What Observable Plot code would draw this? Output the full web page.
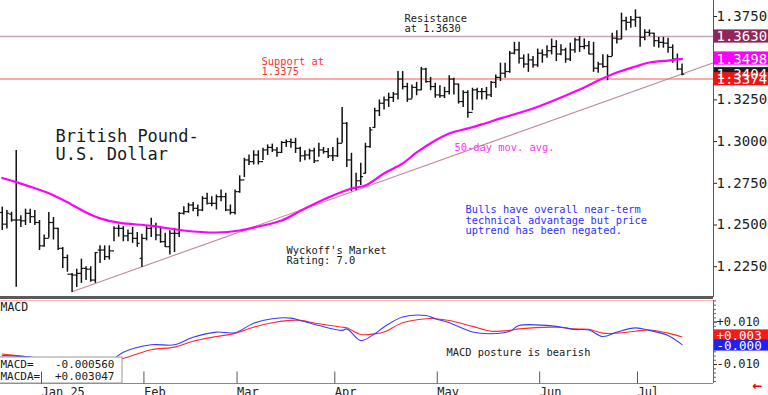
<!DOCTYPE html>
<html><head><meta charset="utf-8">
<script src="https://cdn.jsdelivr.net/npm/d3@7"></script>
<script src="https://cdn.jsdelivr.net/npm/@observablehq/plot@0.6"></script>
<style>
body{margin:0;background:#fff;}
#wrap{position:relative;width:768px;height:395px;overflow:hidden;background:#fff;}
#wrap svg{position:absolute;left:0;display:block;}
</style></head><body><div id="wrap"></div>
<script>
// ---- Daily OHLC, GBP/USD, trading-day index 0 = Dec 19 2024 ... 146 = Jul 15 2025
const open  = [1.2575,1.2505,1.2565,1.2530,1.2530,1.2525,1.2570,1.2550,1.2515,1.2375,
 1.2420,1.2515,1.2480,1.2360,1.2305,1.2205,1.2200,1.2210,1.2240,1.2235,
 1.2170,1.2350,1.2350,1.2310,1.2345,1.2480,1.2480,1.2435,1.2450,1.2420,
 1.2300,1.2420,1.2480,1.2495,1.2440,1.2400,1.2370,1.2450,1.2450,1.2570,
 1.2580,1.2620,1.2600,1.2590,1.2660,1.2630,1.2630,1.2670,1.2670,1.2590,
 1.2575,1.2700,1.2770,1.2890,1.2880,1.2920,1.2880,1.2950,1.2965,1.2950,
 1.2935,1.2995,1.3000,1.2995,1.2960,1.2915,1.2920,1.2945,1.2885,1.2950,
 1.2940,1.2915,1.2915,1.2990,1.3110,1.2890,1.2720,1.2765,1.2810,1.2970,
 1.3085,1.3185,1.3230,1.3250,1.3265,1.3285,1.3375,1.3330,1.3255,1.3325,
 1.3310,1.3435,1.3360,1.3330,1.3280,1.3275,1.3300,1.3375,1.3345,1.3240,
 1.3295,1.3175,1.3310,1.3300,1.3300,1.3280,1.3355,1.3385,1.3410,1.3420,
 1.3530,1.3550,1.3500,1.3465,1.3490,1.3460,1.3530,1.3520,1.3545,1.3570,
 1.3525,1.3550,1.3495,1.3550,1.3610,1.3570,1.3575,1.3525,1.3440,1.3465,
 1.3450,1.3510,1.3620,1.3615,1.3725,1.3715,1.3730,1.3745,1.3625,1.3655,
 1.3650,1.3605,1.3595,1.3590,1.3565,1.3495,1.3435];
const high  = [1.2607,1.2587,1.2577,1.2947,1.2555,1.2595,1.2595,1.2587,1.2527,1.2440,
 1.2575,1.2545,1.2480,1.2365,1.2320,1.2210,1.2235,1.2295,1.2250,1.2250,
 1.2335,1.2375,1.2375,1.2375,1.2490,1.2500,1.2490,1.2470,1.2485,1.2455,
 1.2445,1.2490,1.2540,1.2510,1.2490,1.2450,1.2465,1.2480,1.2575,1.2610,
 1.2630,1.2635,1.2620,1.2670,1.2690,1.2670,1.2680,1.2710,1.2690,1.2620,
 1.2710,1.2795,1.2900,1.2920,1.2945,1.2945,1.2960,1.2980,1.2985,1.2965,
 1.3000,1.3010,1.3015,1.3020,1.2966,1.2945,1.2955,1.2960,1.2990,1.2965,
 1.2959,1.2965,1.3020,1.3205,1.3115,1.2930,1.2810,1.2870,1.2990,1.3085,
 1.3200,1.3250,1.3268,1.3290,1.3295,1.3420,1.3420,1.3350,1.3340,1.3355,
 1.3445,1.3440,1.3385,1.3350,1.3335,1.3325,1.3395,1.3380,1.3345,1.3305,
 1.3305,1.3320,1.3320,1.3318,1.3325,1.3360,1.3400,1.3470,1.3470,1.3540,
 1.3595,1.3595,1.3520,1.3525,1.3510,1.3555,1.3550,1.3575,1.3615,1.3605,
 1.3580,1.3560,1.3590,1.3620,1.3630,1.3615,1.3600,1.3595,1.3475,1.3520,
 1.3520,1.3650,1.3665,1.3770,1.3745,1.3750,1.3790,1.3745,1.3670,1.3670,
 1.3650,1.3625,1.3625,1.3620,1.3580,1.3525,1.3465];
const low   = [1.2467,1.2476,1.2517,1.2127,1.2485,1.2497,1.2509,1.2497,1.2347,1.2367,
 1.2420,1.2410,1.2347,1.2240,1.2217,1.2095,1.2125,1.2150,1.2167,1.2157,
 1.2150,1.2269,1.2287,1.2290,1.2400,1.2427,1.2400,1.2400,1.2390,1.2367,
 1.2245,1.2405,1.2425,1.2405,1.2390,1.2365,1.2320,1.2335,1.2425,1.2560,
 1.2570,1.2580,1.2550,1.2580,1.2620,1.2610,1.2590,1.2640,1.2580,1.2560,
 1.2560,1.2690,1.2785,1.2857,1.2860,1.2860,1.2887,1.2917,1.2935,1.2906,
 1.2929,1.2965,1.2960,1.2929,1.2876,1.2885,1.2890,1.2869,1.2906,1.2925,
 1.2899,1.2880,1.2905,1.2990,1.2845,1.2700,1.2707,1.2737,1.2805,1.2960,
 1.3080,1.3150,1.3190,1.3205,1.3235,1.3250,1.3310,1.3235,1.3255,1.3275,
 1.3305,1.3350,1.3305,1.3260,1.3260,1.3258,1.3280,1.3280,1.3225,1.3205,
 1.3140,1.3185,1.3250,1.3250,1.3250,1.3265,1.3320,1.3360,1.3380,1.3410,
 1.3520,1.3465,1.3440,1.3415,1.3440,1.3445,1.3470,1.3500,1.3520,1.3480,
 1.3515,1.3470,1.3480,1.3530,1.3535,1.3550,1.3520,1.3415,1.3410,1.3440,
 1.3365,1.3510,1.3585,1.3610,1.3665,1.3680,1.3685,1.3565,1.3605,1.3630,
 1.3565,1.3560,1.3560,1.3530,1.3470,1.3425,1.3395];
const close = [1.2505,1.2570,1.2530,1.2530,1.2525,1.2570,1.2550,1.2515,1.2375,1.2420,
 1.2515,1.2480,1.2360,1.2305,1.2205,1.2200,1.2210,1.2240,1.2235,1.2170,
 1.2335,1.2350,1.2310,1.2345,1.2480,1.2480,1.2435,1.2450,1.2420,1.2390,
 1.2420,1.2480,1.2495,1.2440,1.2400,1.2370,1.2450,1.2450,1.2570,1.2580,
 1.2620,1.2600,1.2590,1.2660,1.2630,1.2630,1.2670,1.2670,1.2590,1.2575,
 1.2700,1.2770,1.2890,1.2880,1.2920,1.2880,1.2950,1.2965,1.2950,1.2935,
 1.2995,1.3000,1.2995,1.2960,1.2915,1.2920,1.2945,1.2885,1.2950,1.2940,
 1.2915,1.2915,1.2990,1.3110,1.2890,1.2720,1.2765,1.2790,1.2970,1.3070,
 1.3185,1.3230,1.3250,1.3265,1.3285,1.3375,1.3330,1.3255,1.3325,1.3310,
 1.3435,1.3360,1.3330,1.3280,1.3275,1.3300,1.3375,1.3345,1.3240,1.3295,
 1.3175,1.3310,1.3300,1.3300,1.3280,1.3355,1.3385,1.3410,1.3420,1.3530,
 1.3550,1.3500,1.3465,1.3490,1.3460,1.3530,1.3520,1.3545,1.3570,1.3525,
 1.3550,1.3495,1.3550,1.3610,1.3570,1.3575,1.3525,1.3440,1.3465,1.3450,
 1.3510,1.3620,1.3615,1.3725,1.3715,1.3730,1.3745,1.3625,1.3655,1.3650,
 1.3605,1.3595,1.3590,1.3565,1.3495,1.3435,1.3404];

// 50-day moving average, read at selected trading days
const maIdx = [0,3,7,10,14,18,21,25,32,39,46,51,55,60,65,71,75,78,82,86,89,93,96,100,103,107,114,121,125,128,132,136,139,143,146];
const maVal = [1.2782,1.2757,1.2720,1.2690,1.2636,1.2575,1.2540,1.2514,1.2495,1.2467,1.2455,1.2467,1.2491,1.2527,1.2599,1.2677,1.2719,1.2737,1.2809,1.2869,1.2935,1.3007,1.3049,1.3079,1.3103,1.3139,1.3198,1.3276,1.3324,1.3366,1.3414,1.3450,1.3474,1.3486,1.3496];

// trendline anchors (index, price)
const trendIdx = [15, 152.76];
const trendVal = [1.2100, 1.3473];

const resistance = 1.3630;
const support = 1.3375;

// right-side value tags
const tagVals   = [1.3630, 1.3498, 1.3404, 1.3374];
const tagLabels = ["1.3630","1.3498","1.3404","1.3374"];

const yTicks = [1.225,1.25,1.275,1.3,1.325,1.35,1.375];

// MACD panel
const macdIdx = [0,7,12,17,21,24,26,32,37,41,46,50,54,58,62,64,68,73,74,77,80,82,86,91,93,96,101,105,109,111,119,123,126,129,132,136,139,143,146];
const macdVal = [-0.0058,-0.0068,-0.0100,-0.0120,-0.0105,-0.0072,-0.0042,-0.0007,-0.0007,0.0029,0.0053,0.0050,0.0095,0.0116,0.0119,0.0108,0.0084,0.0061,0.0068,0.0013,0.0045,0.0077,0.0124,0.0131,0.0116,0.0097,0.0053,0.0045,0.0057,0.0084,0.0080,0.0065,0.0063,0.0032,0.0053,0.0073,0.0061,0.0037,-0.0006];
const macdaVal = [-0.0050,-0.0068,-0.0080,-0.0100,-0.0100,-0.0085,-0.0072,-0.0030,-0.0018,0.0010,0.0032,0.0047,0.0076,0.0097,0.0108,0.0108,0.0092,0.0076,0.0073,0.0042,0.0045,0.0053,0.0097,0.0116,0.0116,0.0108,0.0080,0.0057,0.0061,0.0068,0.0076,0.0068,0.0066,0.0048,0.0048,0.0057,0.0063,0.0048,0.0030];
const macdTicks = [0.010, -0.010];
const macdTagLabels = ["+0.003", "-0.000"];

const monthIdx = [8,30,50,71,93,115,136];
const monthLabels = ["Jan 25","Feb","Mar","Apr","May","Jun","Jul"];

// ---------------- layout helpers
const FONT = "'DejaVu Sans Mono', monospace";
const plotRight = 713;
const xDomain = [-0.376, 152.76];
const yDomain = [1.20654, 1.38459];
const px2x = px => xDomain[0] + px / plotRight * (xDomain[1] - xDomain[0]);
const pricePerPx = (yDomain[1] - yDomain[0]) / 297;

const bars = open.map((o, i) => ({i, o, h: high[i], l: low[i], c: close[i]}));
const ma = maIdx.map((i, k) => ({i, v: maVal[k]}));
const trend = trendIdx.map((i, k) => ({i, v: trendVal[k]}));
const tagColors = ["#8e2658", "#ff00ff", "#1c1c1c", "#f21212"];
const tags = tagVals.map((v, k) => ({v, label: tagLabels[k], color: tagColors[k]}));

const txt = (s, x, y, o = {}) => Plot.text([s], {
  text: d => d, frameAnchor: "top-left", dx: x, dy: y, textAnchor: "start",
  lineAnchor: "top", fontFamily: FONT, fontSize: 10.4, fill: "#1a1a1a", lineHeight: 1.0, ...o
});

const main = Plot.plot({
  width: 768, height: 299,
  marginTop: 0, marginRight: 55, marginBottom: 2, marginLeft: 0,
  style: {fontFamily: FONT, color: "#222", background: "transparent"},
  x: {domain: xDomain, axis: null, label: null},
  y: {domain: yDomain, axis: null, label: null},
  marks: [
    Plot.ruleY([resistance], {stroke: "#c8a2b8", strokeWidth: 1.5}),
    Plot.ruleY([support], {stroke: "#ffaaaa", strokeWidth: 2}),
    Plot.line(trend, {x: "i", y: "v", stroke: "#c48898", strokeWidth: 1.1}),
    Plot.ruleX(bars, {x: "i", y1: "l", y2: "h", stroke: "#111", strokeWidth: 1.5}),
    Plot.link(bars, {x1: d => d.i - 0.5, x2: "i", y1: "o", y2: "o", stroke: "#111", strokeWidth: 1.2}),
    Plot.link(bars, {x1: "i", x2: d => d.i + 0.5, y1: "c", y2: "c", stroke: "#111", strokeWidth: 1.2}),
    Plot.line(ma, {x: "i", y: "v", stroke: "#ff00ff", strokeWidth: 2.2, curve: "catmull-rom"}),
    Plot.ruleX([xDomain[1]], {stroke: "#555", strokeWidth: 1}),
    Plot.axisY({anchor: "right", label: null, ticks: yTicks, tickFormat: d => d.toFixed(4), tickSize: 3, tickPadding: 0, fontSize: 14, fontFamily: FONT, fill: "#222"}),
    Plot.rect(tags, {x1: () => px2x(714), x2: () => px2x(768), y1: d => d.v - 6.6 * pricePerPx, y2: d => d.v + 6.6 * pricePerPx, fill: "color"}),
    Plot.text(tags, {x: () => px2x(716), y: "v", text: "label", textAnchor: "start", fill: "white", fontSize: 14, fontFamily: FONT, dy: 0.5}),
    txt("Resistance\nat 1.3630", 404, 13.5, {lineHeight: 1.03}),
    txt("Support at\n1.3375", 261, 57, {fill: "#ff3030", lineHeight: 0.97}),
    txt("British Pound-\nU.S. Dollar", 55, 129.5, {fontSize: 17, lineHeight: 1.02}),
    txt("50-day mov. avg.", 454, 143.5, {fill: "#ff33ff"}),
    txt("Bulls have overall near-term\ntechnical advantage but price\nuptrend has been negated.", 465, 205.5, {fill: "#3030ff", lineHeight: 1.0}),
    txt("Wyckoff's Market\nRating: 7.0", 286, 246.5, {lineHeight: 0.97}),
    Plot.ruleY([yDomain[0]], {stroke: "#5a5a5a", strokeWidth: 3})
  ]
});

// MACD panel: local y range [1, 84]
const mTop = 0.02019, mBot = -0.01894;
const macdPerPx = (mTop - mBot) / 83;
const lm2v = local => mTop - (local - 1) * macdPerPx;
const macdLine = macdIdx.map((i, k) => ({i, v: macdVal[k]}));
const macdaLine = macdIdx.map((i, k) => ({i, v: macdaVal[k]}));
const mtags = [
  {label: macdTagLabels[0], c: lm2v(36), color: "#f21a1a"},
  {label: macdTagLabels[1], c: lm2v(46), color: "#2020f0"}
];

const mtxt = (s, x, y, o = {}) => txt(s, x, y - 1, o);

const macd = Plot.plot({
  width: 768, height: 96,
  marginTop: 1, marginRight: 55, marginBottom: 12, marginLeft: 0,
  style: {fontFamily: FONT, color: "#222", background: "transparent"},
  x: {domain: xDomain, axis: null, label: null},
  y: {domain: [mBot, mTop], axis: null, label: null},
  marks: [
    Plot.ruleY([mTop], {stroke: "#ffb4b4", strokeWidth: 1}),
    Plot.line(macdaLine, {x: "i", y: "v", stroke: "#ff2a2a", strokeWidth: 1.1, curve: "catmull-rom"}),
    Plot.line(macdLine, {x: "i", y: "v", stroke: "#3a3aff", strokeWidth: 1.1, curve: "catmull-rom"}),
    Plot.ruleY([mBot], {stroke: "#888", strokeWidth: 1}),
    Plot.ruleX([xDomain[1]], {stroke: "#666", strokeWidth: 1}),
    Plot.axisY({anchor: "right", label: null, ticks: d3.range(-0.018, 0.0201, 0.002), tickSize: 2, tickFormat: () => "", stroke: "#666"}),
    Plot.axisY({anchor: "right", label: null, ticks: macdTicks, tickSize: 3, tickPadding: 0, tickFormat: d => (d > 0 ? "+" : "") + d.toFixed(3), fontSize: 12, fontFamily: FONT, fill: "#222"}),
    Plot.rect(mtags, {x1: () => px2x(714), x2: () => px2x(768), y1: d => d.c - 5.6 * macdPerPx, y2: d => d.c + 5.6 * macdPerPx, fill: "color"}),
    Plot.text(mtags, {x: () => px2x(716), y: "c", text: "label", textAnchor: "start", fill: "white", fontSize: 12.5, fontFamily: FONT, dy: 0.5}),
    Plot.rect([0], {x1: () => px2x(-2), x2: () => px2x(122), y1: () => lm2v(58), y2: () => lm2v(84), fill: "white", stroke: "#999", strokeWidth: 1}),
    mtxt("MACD=", 0, 60.5, {fontSize: 11}),
    mtxt("MACDA=", 0, 72.5, {fontSize: 11}),
    mtxt("-0.000560", 114, 60.5, {fontSize: 11, textAnchor: "end"}),
    mtxt("+0.003047", 114, 72.5, {fontSize: 11, textAnchor: "end"}),
    mtxt("MACD", 0, 3, {fontSize: 11.5}),
    mtxt("MACD posture is bearish", 446, 49),
    Plot.axisX({anchor: "bottom", label: null, ticks: monthIdx, tickFormat: d => monthLabels[monthIdx.indexOf(d)], tickSize: 12, tickPadding: 3, textAnchor: "start", dx: 2, dy: -11.5, fontSize: 12, fontFamily: FONT, fill: "#222", stroke: "#555"}),
    Plot.text(["←"], {frameAnchor: "bottom-right", dx: 49, dy: 6, fill: "#ee0000", fontSize: 12, fontWeight: "bold", fontFamily: "'DejaVu Sans', sans-serif", text: d => d})
  ]
});

main.style.top = "0px";
macd.style.top = "299px";
const wrap = document.getElementById("wrap");
wrap.appendChild(main);
wrap.appendChild(macd);
</script>
</body></html>
